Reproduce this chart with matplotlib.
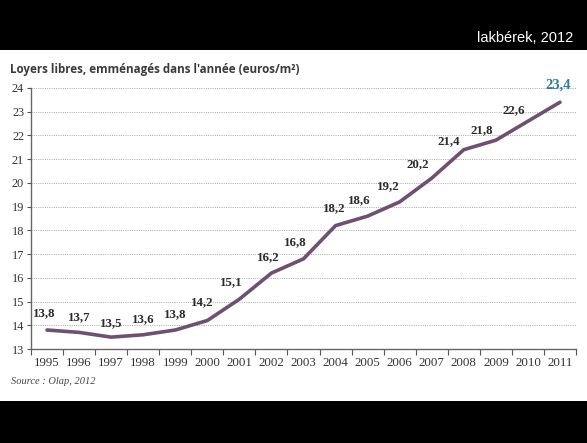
import matplotlib
matplotlib.use('Agg')
import matplotlib.pyplot as plt
from matplotlib.patches import Rectangle
import numpy as np

years  = ['1995', '1996', '1997', '1998', '1999', '2000', '2001', '2002', '2003',
          '2004', '2005', '2006', '2007', '2008', '2009', '2010', '2011']
loyers = [13.8, 13.7, 13.5, 13.6, 13.8, 14.2, 15.1, 16.2, 16.8,
          18.2, 18.6, 19.2, 20.2, 21.4, 21.8, 22.6, 23.4]
labels = ['13,8', '13,7', '13,5', '13,6', '13,8', '14,2', '15,1', '16,2', '16,8',
          '18,2', '18,6', '19,2', '20,2', '21,4', '21,8', '22,6', '23,4']

# label offsets in points (dx, dy) relative to each point
offsets = [(-2, 8), (0, 7), (0, 6), (0, 7), (0, 7), (-4, 9), (-6, 8), (-2, 7), (-6, 8),
           (-1, 8), (-6, 7), (-8, 7), (-10, 6), (-11, 2), (-10, 3), (-10, 4), (-1, 8)]

line_color = '#6e5070'
serif = ['Liberation Serif', 'DejaVu Serif']

fig = plt.figure(figsize=(5.87, 4.43), dpi=100)

# black bands top and bottom
fig.add_artist(Rectangle((0, 1 - 50/443), 1, 50/443, transform=fig.transFigure,
                         facecolor='black', edgecolor='none'))
fig.add_artist(Rectangle((0, 0), 1, 42/443, transform=fig.transFigure,
                         facecolor='black', edgecolor='none'))
fig.text(573/587, 1 - 38/443, 'lakbérek, 2012', color='white', ha='right', va='center',
         fontsize=10.5, family=['Liberation Sans', 'DejaVu Sans'])

fig.text(10/587, 1 - 69/443, "Loyers libres, emménagés dans l'année (euros/m²)",
         fontsize=8.4, fontweight='bold', color='#3a3a3a', ha='left', va='center',
         family=['Open Sans', 'DejaVu Sans'])
fig.text(11/587, 1 - 382/443, 'Source : Olap, 2012', fontsize=7.5, style='italic',
         color='#444444', ha='left', va='center', family=serif)

ax = fig.add_axes([31/587, 1 - 349/443, 545/587, 261/443])
x = np.arange(len(years))
ax.plot(x, loyers, color=line_color, lw=2.6, solid_capstyle='round', zorder=3)

for i, (v, lab) in enumerate(zip(loyers, labels)):
    dx, dy = offsets[i]
    last = i == len(loyers) - 1
    ax.annotate(lab, (x[i], v), xytext=(dx, dy), textcoords='offset points',
                ha='center', va='bottom', fontsize=10.5 if last else 9.3,
                fontweight='bold', color='#2a7b9b' if last else '#2a2a2a',
                family=serif, zorder=4)

ax.set_xlim(-0.5, len(years) - 0.5)
ax.set_ylim(13, 24)
ax.set_yticks(range(13, 25))
ax.tick_params(axis='y', labelsize=8.8, length=3, width=0.8, color='#555555',
               labelcolor='#333333', pad=2)
for lab in ax.get_yticklabels():
    lab.set_family(serif)

ax.set_xticks(x)
ax.set_xticklabels(years, fontsize=9.3, color='#333333', family=serif)
ax.set_xticks(np.arange(-0.5, len(years)), minor=True)
ax.tick_params(axis='x', which='major', length=0, pad=6)
ax.tick_params(axis='x', which='minor', length=4, width=0.8, color='#555555')

for yv in range(14, 25):
    ax.axhline(yv, color='#a8a8a8', lw=0.7, ls=(0, (1, 1.3)), zorder=1)

for s in ['top', 'right']:
    ax.spines[s].set_visible(False)
ax.spines['left'].set_color('#666666')
ax.spines['bottom'].set_color('#666666')
ax.spines['left'].set_linewidth(1)
ax.spines['bottom'].set_linewidth(1)

fig.savefig('out.png', dpi=100)
